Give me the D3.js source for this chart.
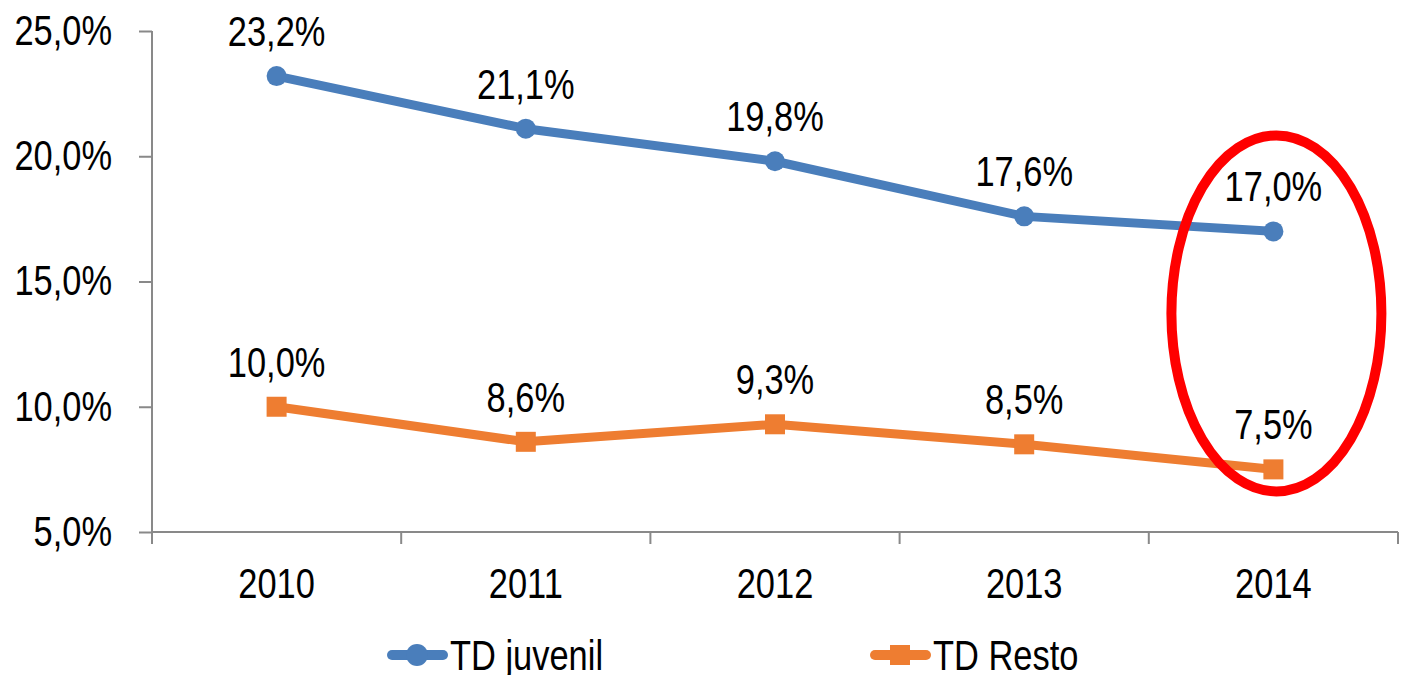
<!DOCTYPE html>
<html>
<head>
<meta charset="utf-8">
<script src="https://cdn.jsdelivr.net/npm/d3@7"></script>
<style>
  body { margin: 0; background: #fff; }
  text { font-family: "Liberation Sans Narrow", "Arial Narrow", "Liberation Sans", Arial, sans-serif; fill: #000; }
</style>
</head>
<body>
<div id="chart"></div>
<script>
// data
var years = ["2010", "2011", "2012", "2013", "2014"];
var juvenil = [23.2, 21.1, 19.8, 17.6, 17.0];
var resto = [10.0, 8.6, 9.3, 8.5, 7.5];
var yTicks = [5, 10, 15, 20, 25];

var W = 1406, H = 675;
var margin = {top: 31, right: 8, bottom: 143, left: 152},
    width = W - margin.left - margin.right,
    height = H - margin.top - margin.bottom;

var svg = d3.select("#chart")
    .append("svg")
    .attr("width", W)
    .attr("height", H)
    .append("g")
    .attr("transform", "translate(" + margin.left + "," + margin.top + ")");

var fmt = function(v) { return v.toFixed(1).replace(".", ",") + "%"; };

// squeeze texts horizontally to look like Arial Narrow
var narrow = function(sel) {
    sel.each(function() {
        var t = d3.select(this);
        var tx = +t.attr("x") || 0, ty = +t.attr("y") || 0;
        t.attr("x", 0).attr("y", 0)
         .attr("transform", "translate(" + tx + "," + ty + ") scale(0.82,1)");
    });
};

var x = d3.scaleBand()
    .domain(years)
    .range([0, width]);

var y = d3.scaleLinear()
    .domain([5, 25])
    .range([height, 0]);

// y axis
var yAxis = svg.append("g")
    .call(d3.axisLeft(y).tickValues(yTicks).tickFormat(function(d) { return fmt(d); })
        .tickSize(13).tickPadding(27));
yAxis.select(".domain").attr("stroke", "#898989").attr("stroke-width", 2).attr("d", "M0,0V" + (height + 12));
yAxis.selectAll(".tick line").attr("stroke", "#898989").attr("stroke-width", 2);
yAxis.selectAll(".tick text").style("font-size", "42px").attr("fill", "#000").call(narrow);

// x axis
var xAxis = svg.append("g")
    .attr("transform", "translate(0," + height + ")")
    .call(d3.axisBottom(x).tickSize(0).tickPadding(36));
xAxis.select(".domain").attr("stroke", "#898989").attr("stroke-width", 2).attr("d", "M0,0H" + width);
xAxis.selectAll(".tick text").style("font-size", "42px").attr("fill", "#000").call(narrow);
// boundary ticks
xAxis.selectAll(".bound")
    .data(d3.range(years.length + 1))
    .enter()
    .append("line")
    .attr("x1", function(i) { return i * x.step(); })
    .attr("x2", function(i) { return i * x.step(); })
    .attr("y1", 0)
    .attr("y2", 12)
    .attr("stroke", "#898989")
    .attr("stroke-width", 2);

var cx = function(d, i) { return x(years[i]) + x.bandwidth() / 2; };

var line = d3.line()
    .x(function(d, i) { return cx(d, i); })
    .y(function(d) { return y(d); });

var blue = "#4A7EBB", orange = "#EE7D31";

// series juvenil
svg.append("path")
    .datum(juvenil)
    .attr("d", line)
    .attr("fill", "none")
    .attr("stroke", blue)
    .attr("stroke-width", 9)
    .attr("stroke-linejoin", "round");
svg.selectAll(".dotj")
    .data(juvenil)
    .enter()
    .append("circle")
    .attr("cx", cx)
    .attr("cy", function(d) { return y(d); })
    .attr("r", 10)
    .attr("fill", blue);
svg.selectAll(".labj")
    .data(juvenil)
    .enter()
    .append("text")
    .attr("x", cx)
    .attr("y", function(d) { return y(d) - 30; })
    .attr("text-anchor", "middle")
    .style("font-size", "42px")
    .text(fmt)
    .call(narrow);

// series resto
svg.append("path")
    .datum(resto)
    .attr("d", line)
    .attr("fill", "none")
    .attr("stroke", orange)
    .attr("stroke-width", 9)
    .attr("stroke-linejoin", "round");
svg.selectAll(".dotr")
    .data(resto)
    .enter()
    .append("rect")
    .attr("x", function(d, i) { return cx(d, i) - 10; })
    .attr("y", function(d) { return y(d) - 10; })
    .attr("width", 20)
    .attr("height", 20)
    .attr("fill", orange);
svg.selectAll(".labr")
    .data(resto)
    .enter()
    .append("text")
    .attr("x", cx)
    .attr("y", function(d) { return y(d) - 30; })
    .attr("text-anchor", "middle")
    .style("font-size", "42px")
    .text(fmt)
    .call(narrow);

// red ellipse around 2014
svg.append("ellipse")
    .attr("cx", x("2014") + x.bandwidth() / 2 + 3)
    .attr("cy", (y(juvenil[4]) + y(resto[4])) / 2 - 37)
    .attr("rx", 105)
    .attr("ry", 178)
    .attr("fill", "none")
    .attr("stroke", "#FF0000")
    .attr("stroke-width", 10);

// legend
var legend = [
    {name: "TD juvenil", color: blue, shape: "circle", x: 235},
    {name: "TD Resto", color: orange, shape: "square", x: 718}
];
var lg = svg.selectAll(".legend")
    .data(legend)
    .enter()
    .append("g")
    .attr("transform", function(d) { return "translate(" + d.x + "," + (height + 123) + ")"; });
lg.append("line")
    .attr("x1", 5).attr("x2", 56)
    .attr("y1", 0).attr("y2", 0)
    .attr("stroke", function(d) { return d.color; })
    .attr("stroke-width", 10)
    .attr("stroke-linecap", "round");
lg.each(function(d) {
    var g = d3.select(this);
    if (d.shape == "circle") {
        g.append("circle").attr("cx", 30).attr("cy", 0).attr("r", 11).attr("fill", d.color);
    } else {
        g.append("rect").attr("x", 20).attr("y", -10).attr("width", 20).attr("height", 20).attr("fill", d.color);
    }
});
lg.append("text")
    .attr("x", 63)
    .attr("y", 15)
    .style("font-size", "42px")
    .text(function(d) { return d.name; })
    .call(narrow);
</script>
</body>
</html>
